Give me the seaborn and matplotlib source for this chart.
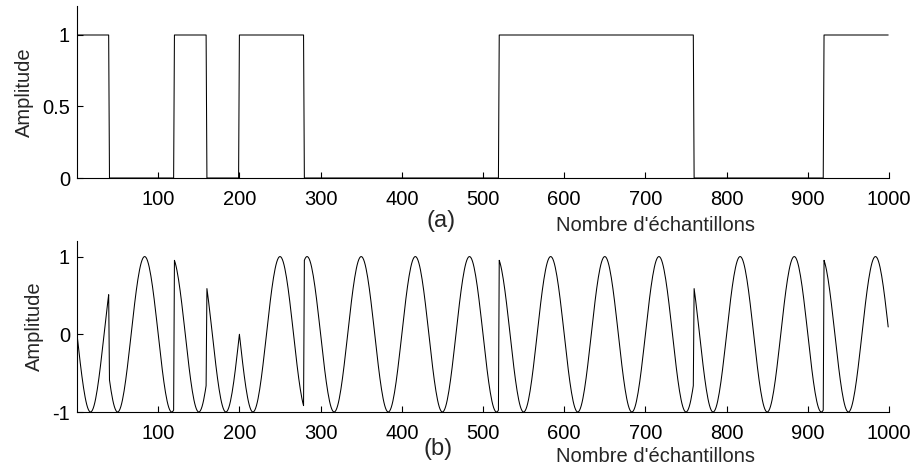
import numpy as np
import pandas as pd
import matplotlib
matplotlib.use("Agg")
import matplotlib.pyplot as plt
import seaborn as sns

# bits, 40 samples per bit
bits = [1, 0, 0, 1, 0, 1, 1, 0, 0, 0, 0, 0, 0, 1, 1, 1, 1, 1, 1, 0, 0, 0, 0, 1, 1]
samples_per_bit = 40
carrier_cycles = 15          # carrier periods over the 1000 samples
n_samples = 1000

xticks = [100, 200, 300, 400, 500, 600, 700, 800, 900, 1000]
yticks_a = [0, 0.5, 1]
yticks_b = [-1, 0, 1]
ytick_labels_a = ["0", "0.5", "1"]
ytick_labels_b = ["-1", "0", "1"]

# build signals (BPSK: bit 1 -> -sin, bit 0 -> +sin)
n = np.arange(n_samples)
binary = np.repeat(bits, samples_per_bit)[:n_samples]
carrier = np.sin(2 * np.pi * carrier_cycles * n / n_samples)
bpsk = np.where(binary == 1, -carrier, carrier)
df = pd.DataFrame({"n": n, "binary": binary, "bpsk": bpsk})

sns.set_style("ticks")
plt.rcParams["font.family"] = ["Liberation Sans", "DejaVu Sans"]
plt.rcParams["axes.unicode_minus"] = False

fig = plt.figure(figsize=(9.13, 4.68), dpi=100)
ax1 = fig.add_axes([77 / 913, 1 - 178 / 468, 812 / 913, 171.6 / 468])
ax2 = fig.add_axes([77 / 913, 1 - 412 / 468, 812 / 913, 171 / 468])

sns.lineplot(ax=ax1, x="n", y="binary", data=df, color="black",
             linewidth=0.75, sort=False, estimator=None)
sns.lineplot(ax=ax2, x="n", y="bpsk", data=df, color="black",
             linewidth=0.75, sort=False, estimator=None)

for ax, yt, ytl, ylim in [(ax1, yticks_a, ytick_labels_a, (0, 1.2)),
                          (ax2, yticks_b, ytick_labels_b, (-1, 1.2))]:
    ax.set_xlim(0, 1000)
    ax.set_ylim(*ylim)
    ax.set_xticks(xticks)
    ax.set_yticks(yt)
    ax.set_yticklabels(ytl)
    ax.tick_params(direction="in", length=4, width=0.8, labelsize=14.5,
                   colors="black")
    ax.tick_params(axis="y", pad=5)
    ax.tick_params(axis="x", pad=8.5)
    for s in ["top", "right"]:
        ax.spines[s].set_visible(False)
    for s in ["left", "bottom"]:
        ax.spines[s].set_linewidth(0.8)
        ax.spines[s].set_color("black")
    ax.set_xlabel("")
    ax.set_ylabel("Amplitude", fontsize=14.5, labelpad=6)

fig.text(441 / 913, 1 - 221 / 468, "(a)", fontsize=17, ha="center", va="center")
fig.text(655 / 913, 1 - 225 / 468, "Nombre d'échantillons", fontsize=14.5,
         ha="center", va="center")
fig.text(438 / 913, 1 - 449 / 468, "(b)", fontsize=17, ha="center", va="center")
fig.text(655 / 913, 1 - 456 / 468, "Nombre d'échantillons", fontsize=14.5,
         ha="center", va="center")

fig.savefig("out.png", dpi=100)
